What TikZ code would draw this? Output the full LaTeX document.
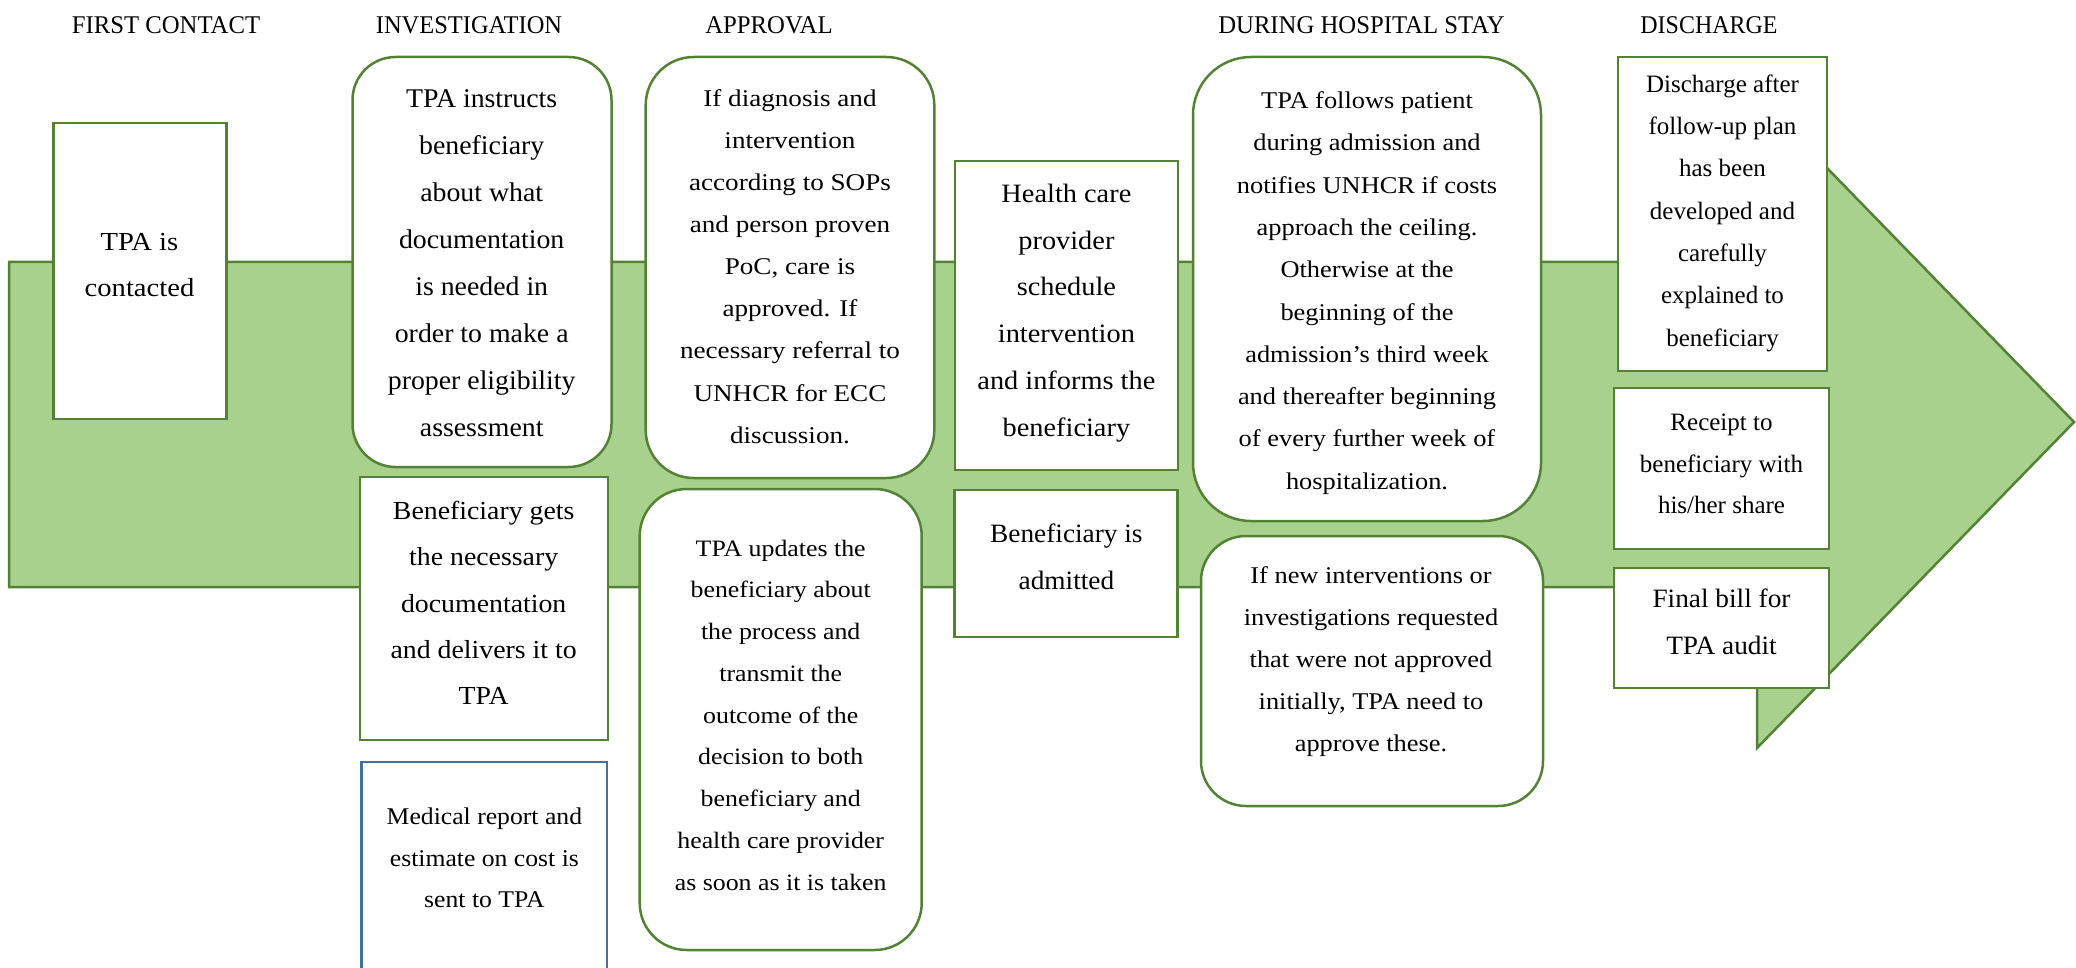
\documentclass[tikz,border=0pt]{standalone}
\usepackage{fontspec}
\setmainfont{Liberation Serif}
\newfontfamily\fsa[FakeStretch=0.96]{Liberation Serif}
\newfontfamily\fsb[FakeStretch=0.94]{Liberation Serif}
\newfontfamily\fsc[FakeStretch=0.97]{Liberation Serif}
\newfontfamily\fsd[FakeStretch=1.0]{Liberation Serif}
\newfontfamily\fse[FakeStretch=1.03]{Liberation Serif}
\newfontfamily\fsf[FakeStretch=1.07]{Liberation Serif}
\newfontfamily\fsg[FakeStretch=1.1]{Liberation Serif}
\newfontfamily\fsh[FakeStretch=1.13]{Liberation Serif}
\definecolor{arrowfill}{HTML}{A9D18E}
\definecolor{arrowline}{HTML}{548235}
\definecolor{bluebox}{HTML}{41719C}
\tikzset{
  gbox/.style={draw=arrowline, line width=2.5pt, fill=white, inner sep=0pt, rectangle},
  rbox/.style={gbox, rounded corners=#1},
  bbox/.style={gbox, draw=bluebox},
  txt/.style={align=center, inner sep=0pt, text=black},
  head/.style={anchor=base, inner sep=0pt, text=black},
}
\begin{document}
\begin{tikzpicture}[x=1pt, y=-1pt]
\useasboundingbox (0,0) rectangle (2076,968);
% big arrow
\draw[arrowline, fill=arrowfill, line width=2.5pt, line join=miter]
  (9,262) -- (1757,262) -- (1757,96) -- (2074,422) -- (1757,748) -- (1757,587) -- (9,587) -- cycle;

% headings
\node[head, font={\fsc\fontsize{25.5}{30}\selectfont}] (h1) at (166,34) {FIRST CONTACT};
\node[head, font={\fsa\fontsize{25.5}{30}\selectfont}] (h2) at (469,34) {INVESTIGATION};
\node[head, font={\fsc\fontsize{25.5}{30}\selectfont}] (h3) at (769,34) {APPROVAL};
\node[head, font={\fsc\fontsize{25.5}{30}\selectfont}] (h4) at (1361.5,34) {DURING HOSPITAL STAY};
\node[head, font={\fsb\fontsize{25.5}{30}\selectfont}] (h5) at (1709,34) {DISCHARGE};

% boxes
\node[gbox, minimum width=173pt, minimum height=296pt] (b1) at (140,271) {};
\node[rbox=43pt, minimum width=259pt, minimum height=410pt] (b2) at (482,262) {};
\node[gbox, minimum width=248pt, minimum height=263pt] (b3) at (484,608.5) {};
\node[bbox, minimum width=245.5pt, minimum height=240pt] (b4) at (484.4,882) {};
\node[rbox=48pt, minimum width=288.6pt, minimum height=421pt] (b5) at (790,267.5) {};
\node[rbox=47pt, minimum width=282pt, minimum height=461pt] (b6) at (780.7,719.5) {};
\node[gbox, minimum width=223pt, minimum height=309pt] (b7) at (1066.5,315.5) {};
\node[gbox, minimum width=223pt, minimum height=147pt] (b8) at (1066,563.5) {};
\node[rbox=58pt, minimum width=348pt, minimum height=464pt] (b9) at (1367,289) {};
\node[rbox=45pt, minimum width=342pt, minimum height=270pt] (b10) at (1372,671) {};
\node[gbox, minimum width=209pt, minimum height=314pt] (b11) at (1722.5,214) {};
\node[gbox, minimum width=215pt, minimum height=161pt] (b12) at (1721.5,468.5) {};
\node[gbox, minimum width=215pt, minimum height=120pt] (b13) at (1721.5,628) {};

% texts
\node[txt, font={\fsg\fontsize{26}{46}\selectfont}] (t1) at (139.5,265) {TPA is\\contacted};
\node[txt, font={\fse\fontsize{27}{47}\selectfont}] (t2) at (481.7,263) {TPA instructs\\beneficiary\\about what\\documentation\\is needed in\\order to make a\\proper eligibility\\assessment};
\node[txt, font={\fsf\fontsize{26}{46.25}\selectfont}] (t3) at (483.7,603) {Beneficiary gets\\the necessary\\documentation\\and delivers it to\\TPA};
\node[txt, font={\fsf\fontsize{24}{41.5}\selectfont}] (t4) at (484.4,858) {Medical report and\\estimate on cost is\\sent to TPA};
\node[txt, font={\fsh\fontsize{24}{42.1}\selectfont}] (t5) at (790,266.5) {If diagnosis and\\intervention\\according to SOPs\\and person proven\\PoC, care is\\approved. If\\necessary referral to\\UNHCR for ECC\\discussion.};
\node[txt, font={\fsg\fontsize{23.5}{41.75}\selectfont}] (t6) at (780.7,715) {TPA updates the\\beneficiary about\\the process and\\transmit the\\outcome of the\\decision to both\\beneficiary and\\health care provider\\as soon as it is taken};
\node[txt, font={\fsf\fontsize{26.5}{46.8}\selectfont}] (t7) at (1066.4,313) {Health care\\provider\\schedule\\intervention\\and informs the\\beneficiary};
\node[txt, font={\fse\fontsize{26.5}{47}\selectfont}] (t8) at (1066.4,556.5) {Beneficiary is\\admitted};
\node[txt, font={\fsg\fontsize{24}{42.3}\selectfont}] (t9) at (1367,293) {TPA follows patient\\during admission and\\notifies UNHCR if costs\\approach the ceiling.\\Otherwise at the\\beginning of the\\admission’s third week\\and thereafter beginning\\of every further week of\\hospitalization.};
\node[txt, font={\fsg\fontsize{24}{42}\selectfont}] (t10) at (1371,662) {If new interventions or\\investigations requested\\that were not approved\\initially, TPA need to\\approve these.};
\node[txt, font={\fsd\fontsize{25}{42.3}\selectfont}] (t11) at (1722.5,213) {Discharge after\\follow-up plan\\has been\\developed and\\carefully\\explained to\\beneficiary};
\node[txt, font={\fsd\fontsize{25}{41.5}\selectfont}] (t12) at (1721.5,464) {Receipt to\\beneficiary with\\his/her share};
\node[txt, font={\fse\fontsize{26.5}{47}\selectfont}] (t13) at (1721.5,621.5) {Final bill for\\TPA audit};
\end{tikzpicture}
\end{document}
